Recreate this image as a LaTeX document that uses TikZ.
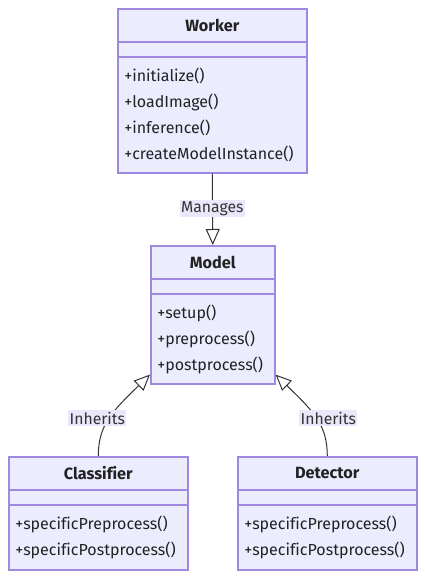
\documentclass[tikz,border=0pt]{standalone}
\usepackage{fontspec}
\setmainfont[Ligatures={NoCommon}]{Fira Sans}
\usetikzlibrary{arrows.meta,calc}
\definecolor{boxfill}{HTML}{ECECFF}
\definecolor{boxline}{HTML}{A088E0}
\definecolor{edgecol}{HTML}{333333}
\definecolor{lblbg}{HTML}{E8E8FA}
\definecolor{txt}{HTML}{222222}
\begin{document}
\begin{tikzpicture}[x=0.75pt,y=-0.75pt,
  cls/.style={draw=boxline, fill=boxfill, line width=1.2pt, inner sep=0pt, anchor=north west},
  divider/.style={draw=boxline, line width=1.2pt},
  hdr/.style={font=\fontsize{12.2}{14}\selectfont\bfseries, text=txt, inner sep=0pt},
  mem/.style={font=\fontsize{12}{14}\selectfont, text=txt, anchor=west, inner sep=0pt},
  lbl/.style={font=\fontsize{11.8}{14}\selectfont, text=edgecol, fill=lblbg, inner sep=1pt},
  conn/.style={draw=edgecol, line width=0.75pt, -{Triangle[open, length=16*0.75pt, width=14*0.75pt]}}
]
\useasboundingbox (0,0) rectangle (424,577);
% Worker
\node[cls, minimum width=189*0.75pt, minimum height=164*0.75pt] (worker) at (117,8) {};
\draw[divider] ($(worker.north west)+(0,34)$) -- ($(worker.north east)+(0,34)$);
\draw[divider] ($(worker.north west)+(0,49)$) -- ($(worker.north east)+(0,49)$);
\node[hdr] (workerT) at ($(worker.north)+(0,17)$) {Worker};
\node[mem] (w1) at ($(worker.north west)+(7,68)$) {+initialize()};
\node[mem] (w2) at ($(worker.north west)+(7,94)$) {+loadImage()};
\node[mem] (w3) at ($(worker.north west)+(7,120)$) {+inference()};
\node[mem] (w4) at ($(worker.north west)+(7,146)$) {+createModelInstance()};
% Model
\node[cls, minimum width=124*0.75pt, minimum height=138*0.75pt] (model) at (150,245) {};
\draw[divider] ($(model.north west)+(0,34)$) -- ($(model.north east)+(0,34)$);
\draw[divider] ($(model.north west)+(0,49)$) -- ($(model.north east)+(0,49)$);
\node[hdr] (modelT) at ($(model.north)+(0,17)$) {Model};
\node[mem] (m1) at ($(model.north west)+(7,68)$) {+setup()};
\node[mem] (m2) at ($(model.north west)+(7,94)$) {+preprocess()};
\node[mem] (m3) at ($(model.north west)+(7,120)$) {+postprocess()};
% Classifier
\node[cls, minimum width=179*0.75pt, minimum height=113*0.75pt] (classifier) at (8,456) {};
\draw[divider] ($(classifier.north west)+(0,34)$) -- ($(classifier.north east)+(0,34)$);
\draw[divider] ($(classifier.north west)+(0,49)$) -- ($(classifier.north east)+(0,49)$);
\node[hdr] (classifierT) at ($(classifier.north)+(0,17)$) {Classifier};
\node[mem] (c1) at ($(classifier.north west)+(7,68)$) {+specificPreprocess()};
\node[mem] (c2) at ($(classifier.north west)+(7,94)$) {+specificPostprocess()};
% Detector
\node[cls, minimum width=179*0.75pt, minimum height=113*0.75pt] (detector) at (237,456) {};
\draw[divider] ($(detector.north west)+(0,34)$) -- ($(detector.north east)+(0,34)$);
\draw[divider] ($(detector.north west)+(0,49)$) -- ($(detector.north east)+(0,49)$);
\node[hdr] (detectorT) at ($(detector.north)+(0,17)$) {Detector};
\node[mem] (d1) at ($(detector.north west)+(7,68)$) {+specificPreprocess()};
\node[mem] (d2) at ($(detector.north west)+(7,94)$) {+specificPostprocess()};
% connectors
\coordinate (mL) at ($(model.south west)+(0,-10)$);
\coordinate (mR) at ($(model.south east)+(0,-10)$);
\draw[conn] (worker.south) -- (model.north);
\node[lbl] (lManages) at ($(worker.south)+(0,35)$) {Manages};
\draw[conn] (classifier.north) .. controls ($(classifier.north)+(0,-31)$) and ($(mL)+(-38,37)$) .. (mL);
\node[lbl] (lInhL) at ($(classifier.north)+(-1,-38)$) {Inherits};
\draw[conn] (detector.north) .. controls ($(detector.north)+(0,-31)$) and ($(mR)+(38,37)$) .. (mR);
\node[lbl] (lInhR) at ($(detector.north)+(1,-38)$) {Inherits};
\end{tikzpicture}
\end{document}
